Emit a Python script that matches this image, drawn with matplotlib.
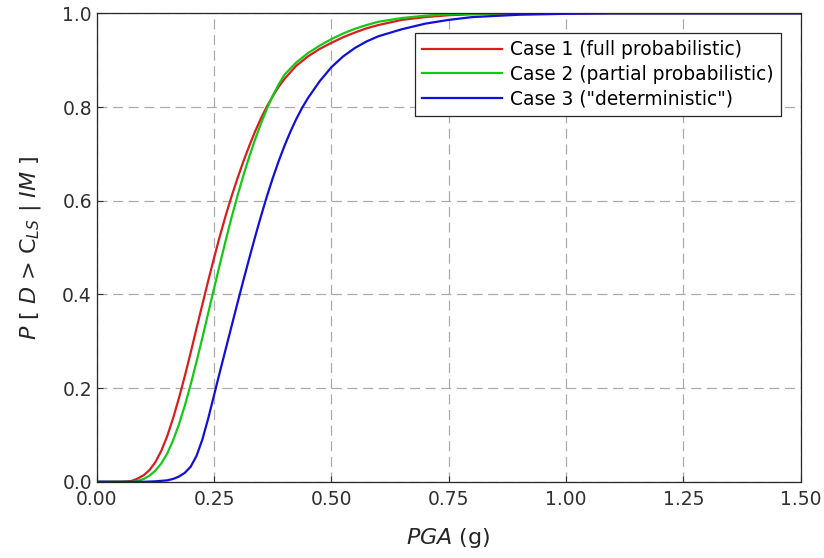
import matplotlib
matplotlib.use("Agg")
import matplotlib.pyplot as plt

plt.rcParams["font.family"] = ["DejaVu Sans"]
plt.rcParams["mathtext.fontset"] = "dejavusans"

# fragility curves, P[D > C_LS | IM] versus PGA (g)
pga_1 = [0.0, 0.05, 0.0625, 0.075, 0.0875, 0.10, 0.1125, 0.125, 0.1375, 0.15,
         0.1625, 0.175, 0.1875, 0.20, 0.2125, 0.225, 0.2375, 0.25, 0.2625, 0.275,
         0.2875, 0.30, 0.3125, 0.325, 0.3375, 0.35, 0.3625, 0.375, 0.3875, 0.40,
         0.425, 0.45, 0.475, 0.50, 0.525, 0.55, 0.575, 0.60, 0.65, 0.70, 0.75,
         0.80, 0.90, 1.50]
p_case1 = [0.0, 0.0, 0.0005, 0.002, 0.007, 0.014, 0.025, 0.042, 0.066, 0.097,
           0.135, 0.178, 0.225, 0.275, 0.327, 0.378, 0.429, 0.478, 0.525, 0.569,
           0.61, 0.648, 0.684, 0.717, 0.748, 0.776, 0.801, 0.823, 0.843, 0.86,
           0.888, 0.908, 0.924, 0.937, 0.949, 0.959, 0.968, 0.975, 0.986, 0.992, 0.996,
           0.998, 1.0, 1.0]

pga_2 = [0.0, 0.075, 0.0875, 0.10, 0.1125, 0.125, 0.1375, 0.15, 0.1625, 0.175,
         0.1875, 0.20, 0.2125, 0.225, 0.2375, 0.25, 0.2625, 0.275, 0.2875, 0.30,
         0.3125, 0.325, 0.3375, 0.35, 0.3625, 0.375, 0.3875, 0.40, 0.425, 0.45,
         0.475, 0.50, 0.525, 0.55, 0.575, 0.60, 0.65, 0.70, 0.75, 0.80, 0.90, 1.50]
p_case2 = [0.0, 0.0, 0.002, 0.006, 0.013, 0.024, 0.039, 0.06, 0.088, 0.122,
           0.162, 0.207, 0.256, 0.307, 0.36, 0.413, 0.465, 0.516, 0.565, 0.611,
           0.654, 0.694, 0.731, 0.765, 0.796, 0.824, 0.848, 0.869, 0.895, 0.915,
           0.931, 0.945, 0.957, 0.967, 0.975, 0.982, 0.99, 0.995, 0.998, 0.999, 1.0, 1.0]

pga_3 = [0.0, 0.10, 0.125, 0.15, 0.1625, 0.175, 0.1875, 0.20, 0.2125, 0.225,
         0.2375, 0.25, 0.2625, 0.275, 0.2875, 0.30, 0.3125, 0.325, 0.3375, 0.35,
         0.3625, 0.375, 0.3875, 0.40, 0.4125, 0.425, 0.4375, 0.45, 0.475, 0.50,
         0.525, 0.55, 0.575, 0.60, 0.65, 0.70, 0.75, 0.80, 0.90, 1.00, 1.10, 1.50]
p_case3 = [0.0, 0.0, 0.001, 0.003, 0.006, 0.011, 0.019, 0.032, 0.055, 0.09,
           0.135, 0.185, 0.235, 0.284, 0.333, 0.382, 0.43, 0.477, 0.523, 0.567,
           0.609, 0.648, 0.684, 0.717, 0.747, 0.774, 0.798, 0.819, 0.855, 0.885,
           0.908, 0.926, 0.94, 0.951, 0.966, 0.978, 0.986, 0.992, 0.997, 0.999, 1.0, 1.0]

labels = ["Case 1 (full probabilistic)", "Case 2 (partial probabilistic)",
          'Case 3 ("deterministic")']
colors = ["#d81e1e", "#16c816", "#1010d8"]

x_ticks = [0.0, 0.25, 0.5, 0.75, 1.0, 1.25, 1.5]
y_ticks = [0.0, 0.2, 0.4, 0.6, 0.8, 1.0]

fig = plt.figure(figsize=(8.24, 5.58), dpi=100)
ax = fig.add_axes([0.1174, 0.1366, 0.8543, 0.8395])

for x, y, lab, c in zip([pga_1, pga_2, pga_3], [p_case1, p_case2, p_case3],
                        labels, colors):
    ax.plot(x, y, color=c, lw=1.6, label=lab)

ax.set_xlim(0, 1.5)
ax.set_ylim(0, 1.0)
ax.set_xticks(x_ticks)
ax.set_xticklabels([f"{v:.2f}" for v in x_ticks])
ax.set_yticks(y_ticks)
ax.set_yticklabels([f"{v:.1f}" for v in y_ticks])
ax.tick_params(direction="in", length=4, labelsize=13.5, colors="#303030",
               top=False, right=False)
ax.tick_params(axis="x", pad=6)
ax.tick_params(axis="y", pad=3.5)
ax.grid(True, color="#ababab", linestyle=(0, (8, 4.5)), lw=0.9)
for s in ax.spines.values():
    s.set_color("#262626")
    s.set_linewidth(0.9)

ax.set_xlabel(r"$\it{PGA}$ (g)", fontsize=16, color="#262626", labelpad=12)
ax.set_ylabel(r"$\it{P}$ [ $\it{D}$ > C$_{\it{LS}}$ | $\it{IM}$ ]", fontsize=16,
              color="#262626", labelpad=14)

leg = ax.legend(loc="upper right", fontsize=13.4, handlelength=4.3, frameon=True,
                fancybox=False, framealpha=1, borderpad=0.4, labelspacing=0.3,
                handletextpad=0.43, borderaxespad=1.05)
leg.get_frame().set_edgecolor("#262626")
leg.get_frame().set_linewidth(0.9)

fig.savefig("out.png", dpi=100)
